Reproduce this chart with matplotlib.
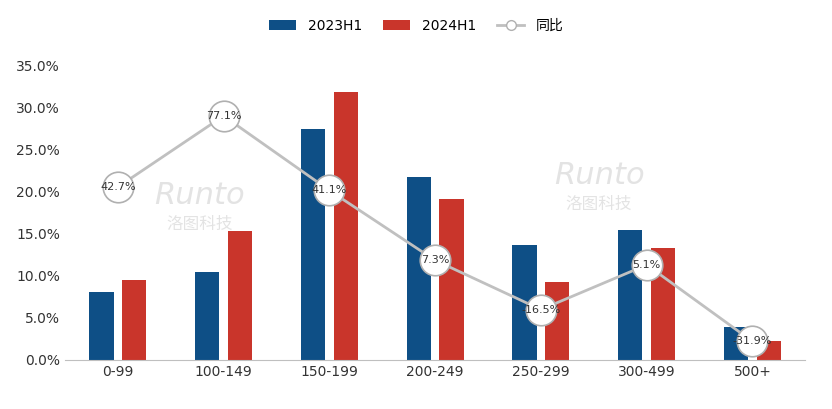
import matplotlib
matplotlib.use("Agg")
import matplotlib.pyplot as plt
import numpy as np
from matplotlib.lines import Line2D

plt.rcParams["font.family"] = ["DejaVu Sans", "Noto Sans CJK SC"]
plt.rcParams["axes.unicode_minus"] = False

categories = ["0-99", "100-149", "150-199", "200-249", "250-299", "300-499", "500+"]
h2023 = [8.1, 10.5, 27.4, 21.7, 13.6, 15.4, 3.9]
h2024 = [9.5, 15.3, 31.8, 19.1, 9.3, 13.3, 2.2]
yoy = [42.7, 77.1, 41.1, 7.3, -16.5, 5.1, -31.9]
yticks = [0, 5, 10, 15, 20, 25, 30, 35]

fig = plt.figure(figsize=(8.32, 4.09), dpi=100)
ax = fig.add_axes([0.078, 0.12, 0.89, 0.72])
x = np.arange(len(categories))
w = 0.23
ax.bar(x - 0.155, h2023, w, color="#0e4f86", label="2023H1", zorder=2)
ax.bar(x + 0.155, h2024, w, color="#c9352b", label="2024H1", zorder=2)
ax.set_ylim(0, 35)
ax.set_xlim(-0.5, len(categories) - 0.5)
ax.set_yticks(yticks)
ax.set_yticklabels([f"{t:.1f}%" for t in yticks], fontsize=10, color="#333333")
ax.set_xticks(x)
ax.set_xticklabels(categories, fontsize=10, color="#333333")
ax.tick_params(length=0)
for s in ["top", "right", "left"]:
    ax.spines[s].set_visible(False)
ax.spines["bottom"].set_color("#bfbfbf")

ax2 = ax.twinx()
b = 26.8 / 109.0
a = 29 - 77.1 * b
ax2.set_ylim((0 - a) / b, (35 - a) / b)
ax2.axis("off")
ax2.plot(x, yoy, color="#c0c0c0", lw=2, marker="o", ms=22, mfc="white",
         mec="#b0b0b0", mew=1.2, label="同比", zorder=3)
for xi, v in zip(x, yoy):
    ax2.text(xi, v, f"{v:.1f}%", ha="center", va="center", fontsize=8, color="#333333", zorder=4)

h1, l1 = ax.get_legend_handles_labels()
h2 = [Line2D([], [], color="#c0c0c0", lw=2, marker="o", ms=7, mfc="white", mec="#b0b0b0")]
fig.legend(h1 + h2, l1 + ["同比"], loc="upper center", bbox_to_anchor=(0.5, 0.985), ncol=3,
           frameon=False, fontsize=10, handlelength=2, columnspacing=1.5)

for (tx, ty) in [(0.24, 0.5), (0.72, 0.55)]:
    fig.text(tx, ty, "Runto", fontsize=22, style="italic", color="#d8d8d8", ha="center", alpha=0.7, zorder=0)
    fig.text(tx, ty - 0.06, "洛图科技", fontsize=12, color="#d8d8d8", ha="center", alpha=0.7, zorder=0)

fig.savefig("out.png", dpi=100)
